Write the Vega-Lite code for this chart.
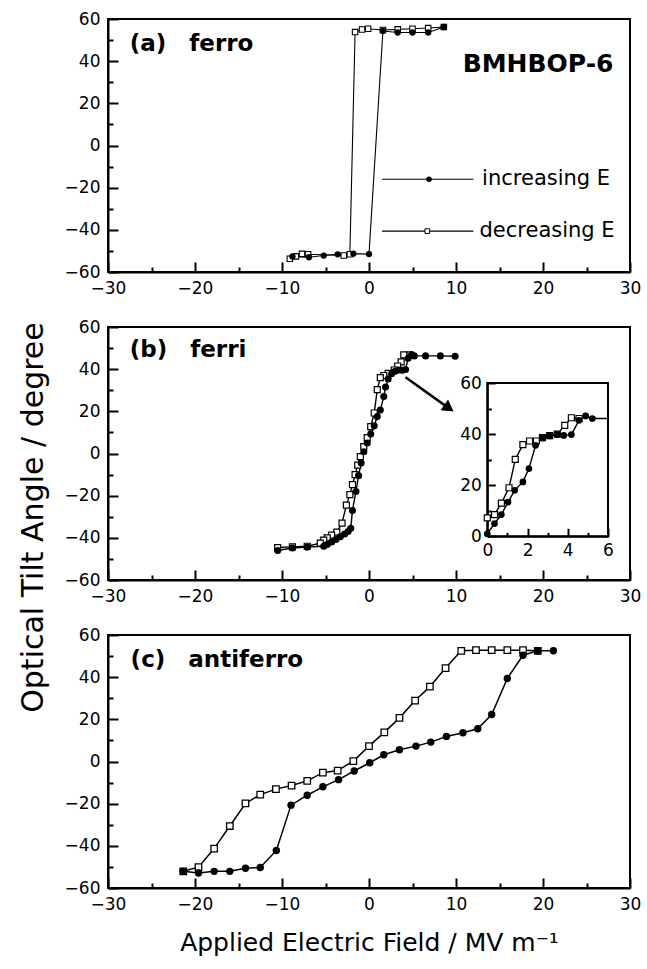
{
  "$schema": "https://vega.github.io/schema/vega-lite/v6.json",
  "background": "white",
  "padding": {"left": 17, "top": 9, "right": 0, "bottom": 5},
  "spacing": 55,
  "bounds": "flush",
  "config": {
    "view": {"stroke": "black", "strokeWidth": 2},
    "axis": {"domainColor": "black", "domainWidth": 2, "tickColor": "black", "tickWidth": 2, "tickSize": -10, "labelPadding": 18, "labelColor": "black", "labelFont": "DejaVu Sans", "labelFontSize": 17, "grid": false, "titleColor": "black", "titleFont": "DejaVu Sans", "titleFontWeight": "normal", "labelFlush": false, "labelOverlap": false}
  },
  "datasets": {
    "a": [
      {"E": -8.8, "T": -52.6, "dir": "inc"}, {"E": -6.9, "T": -53.0, "dir": "inc"}, {"E": -5.2, "T": -52.2, "dir": "inc"}, {"E": -3.6, "T": -51.6, "dir": "inc"}, {"E": -1.8, "T": -51.3, "dir": "inc"}, {"E": 0, "T": -51.5, "dir": "inc"}, {"E": 1.6, "T": 54.3, "dir": "inc"}, {"E": 3.3, "T": 53.6, "dir": "inc"}, {"E": 5.0, "T": 53.6, "dir": "inc"}, {"E": 6.8, "T": 53.6, "dir": "inc"}, {"E": 8.6, "T": 56.2, "dir": "inc"},
      {"E": 8.6, "T": 56.2, "dir": "dec"}, {"E": 6.8, "T": 55.7, "dir": "dec"}, {"E": 5.0, "T": 55.4, "dir": "dec"}, {"E": 3.3, "T": 55.1, "dir": "dec"}, {"E": 1.6, "T": 54.8, "dir": "dec"}, {"E": -0.1, "T": 55.4, "dir": "dec"}, {"E": -0.8, "T": 55.0, "dir": "dec"}, {"E": -1.6, "T": 53.8, "dir": "dec"}, {"E": -2.2, "T": -51.6, "dir": "dec"}, {"E": -2.9, "T": -52.2, "dir": "dec"}, {"E": -7.0, "T": -51.6, "dir": "dec"}, {"E": -7.7, "T": -51.4, "dir": "dec"}, {"E": -8.4, "T": -52.6, "dir": "dec"}, {"E": -9.1, "T": -53.7, "dir": "dec"}
    ],
    "b": [
      {"E": -10.5, "T": -46.0, "dir": "inc"}, {"E": -8.8, "T": -44.8, "dir": "inc"}, {"E": -7.1, "T": -44.4, "dir": "inc"}, {"E": -5.2, "T": -44.0, "dir": "inc"}, {"E": -4.8, "T": -43.2, "dir": "inc"}, {"E": -4.3, "T": -42.0, "dir": "inc"}, {"E": -3.8, "T": -40.8, "dir": "inc"}, {"E": -3.3, "T": -39.5, "dir": "inc"}, {"E": -2.8, "T": -38.2, "dir": "inc"}, {"E": -2.4, "T": -37.0, "dir": "inc"}, {"E": -2.1, "T": -35.5, "dir": "inc"}, {"E": -1.9, "T": -27.0, "dir": "inc"}, {"E": -1.5, "T": -18.0, "dir": "inc"}, {"E": -1.2, "T": -10.5, "dir": "inc"}, {"E": -0.9, "T": -4.5, "dir": "inc"}, {"E": -0.6, "T": 0.8, "dir": "inc"}, {"E": -0.2, "T": 5.0, "dir": "inc"}, {"E": 0.2, "T": 9.2, "dir": "inc"}, {"E": 0.6, "T": 13.2, "dir": "inc"}, {"E": 0.95, "T": 17.5, "dir": "inc"}, {"E": 1.3, "T": 20.6, "dir": "inc"}, {"E": 1.7, "T": 27.0, "dir": "inc"}, {"E": 1.9, "T": 31.5, "dir": "inc"}, {"E": 2.2, "T": 35.3, "dir": "inc"}, {"E": 2.6, "T": 37.8, "dir": "inc"}, {"E": 3.0, "T": 39.0, "dir": "inc"}, {"E": 3.4, "T": 39.6, "dir": "inc"}, {"E": 3.8, "T": 39.5, "dir": "inc"}, {"E": 4.2, "T": 39.8, "dir": "inc"}, {"E": 4.5, "T": 45.2, "dir": "inc"}, {"E": 4.9, "T": 46.8, "dir": "inc"}, {"E": 5.2, "T": 46.3, "dir": "inc"}, {"E": 6.5, "T": 46.3, "dir": "inc"}, {"E": 8.2, "T": 46.3, "dir": "inc"}, {"E": 9.9, "T": 46.1, "dir": "inc"},
      {"E": 4.7, "T": 46.8, "dir": "dec"}, {"E": 4.0, "T": 46.8, "dir": "dec"}, {"E": 3.7, "T": 43.5, "dir": "dec"}, {"E": 3.3, "T": 41.5, "dir": "dec"}, {"E": 2.9, "T": 39.6, "dir": "dec"}, {"E": 2.2, "T": 38.0, "dir": "dec"}, {"E": 1.7, "T": 37.0, "dir": "dec"}, {"E": 1.3, "T": 36.0, "dir": "dec"}, {"E": 0.95, "T": 30.3, "dir": "dec"}, {"E": 0.6, "T": 19.2, "dir": "dec"}, {"E": 0.2, "T": 12.7, "dir": "dec"}, {"E": -0.2, "T": 7.5, "dir": "dec"}, {"E": -0.6, "T": 3.3, "dir": "dec"}, {"E": -1.0, "T": -1.5, "dir": "dec"}, {"E": -1.3, "T": -5.5, "dir": "dec"}, {"E": -1.6, "T": -10.0, "dir": "dec"}, {"E": -1.9, "T": -14.8, "dir": "dec"}, {"E": -2.2, "T": -19.5, "dir": "dec"}, {"E": -2.6, "T": -24.5, "dir": "dec"}, {"E": -3.1, "T": -33.0, "dir": "dec"}, {"E": -3.7, "T": -37.3, "dir": "dec"}, {"E": -4.3, "T": -38.7, "dir": "dec"}, {"E": -4.8, "T": -40.0, "dir": "dec"}, {"E": -5.2, "T": -41.1, "dir": "dec"}, {"E": -5.6, "T": -42.5, "dir": "dec"}, {"E": -7.1, "T": -44.0, "dir": "dec"}, {"E": -8.8, "T": -44.3, "dir": "dec"}, {"E": -10.5, "T": -44.6, "dir": "dec"}
    ],
    "inset": [
      {"E": 0, "T": 1.0, "dir": "inc"}, {"E": 0.36, "T": 5.0, "dir": "inc"}, {"E": 0.7, "T": 8.5, "dir": "inc"}, {"E": 1.03, "T": 13.4, "dir": "inc"}, {"E": 1.36, "T": 18.0, "dir": "inc"}, {"E": 1.77, "T": 21.3, "dir": "inc"}, {"E": 2.07, "T": 26.5, "dir": "inc"}, {"E": 2.4, "T": 35.6, "dir": "inc"}, {"E": 2.74, "T": 38.5, "dir": "inc"}, {"E": 3.1, "T": 39.3, "dir": "inc"}, {"E": 3.48, "T": 39.8, "dir": "inc"}, {"E": 3.8, "T": 39.5, "dir": "inc"}, {"E": 4.18, "T": 39.8, "dir": "inc"}, {"E": 4.56, "T": 45.4, "dir": "inc"}, {"E": 4.89, "T": 47.1, "dir": "inc"}, {"E": 5.22, "T": 46.1, "dir": "inc"}, {"E": 6.0, "T": 46.1, "dir": "inc"},
      {"E": 4.56, "T": 46.1, "dir": "dec"}, {"E": 4.18, "T": 46.4, "dir": "dec"}, {"E": 3.85, "T": 43.4, "dir": "dec"}, {"E": 3.48, "T": 40.0, "dir": "dec"}, {"E": 3.1, "T": 39.4, "dir": "dec"}, {"E": 2.74, "T": 38.6, "dir": "dec"}, {"E": 2.44, "T": 37.3, "dir": "dec"}, {"E": 2.1, "T": 37.3, "dir": "dec"}, {"E": 1.77, "T": 35.9, "dir": "dec"}, {"E": 1.39, "T": 30.1, "dir": "dec"}, {"E": 1.08, "T": 19.0, "dir": "dec"}, {"E": 0.7, "T": 13.0, "dir": "dec"}, {"E": 0.36, "T": 8.5, "dir": "dec"}, {"E": 0, "T": 7.2, "dir": "dec"}
    ],
    "c": [
      {"E": -21.35, "T": -52.1, "dir": "inc"}, {"E": -19.6, "T": -52.9, "dir": "inc"}, {"E": -17.8, "T": -52.1, "dir": "inc"}, {"E": -16.0, "T": -52.1, "dir": "inc"}, {"E": -14.2, "T": -50.6, "dir": "inc"}, {"E": -12.5, "T": -50.3, "dir": "inc"}, {"E": -10.65, "T": -42.2, "dir": "inc"}, {"E": -8.96, "T": -20.7, "dir": "inc"}, {"E": -7.1, "T": -16.0, "dir": "inc"}, {"E": -5.3, "T": -12.0, "dir": "inc"}, {"E": -3.5, "T": -8.6, "dir": "inc"}, {"E": -1.7, "T": -4.5, "dir": "inc"}, {"E": 0.08, "T": -0.6, "dir": "inc"}, {"E": 1.7, "T": 3.2, "dir": "inc"}, {"E": 3.5, "T": 5.6, "dir": "inc"}, {"E": 5.4, "T": 7.3, "dir": "inc"}, {"E": 7.1, "T": 9.2, "dir": "inc"}, {"E": 8.9, "T": 11.9, "dir": "inc"}, {"E": 10.8, "T": 13.6, "dir": "inc"}, {"E": 12.5, "T": 15.5, "dir": "inc"}, {"E": 14.1, "T": 22.3, "dir": "inc"}, {"E": 15.9, "T": 39.4, "dir": "inc"}, {"E": 17.7, "T": 50.4, "dir": "inc"}, {"E": 19.4, "T": 52.5, "dir": "inc"}, {"E": 21.2, "T": 52.5, "dir": "inc"},
      {"E": 19.4, "T": 52.5, "dir": "dec"}, {"E": 17.7, "T": 52.8, "dir": "dec"}, {"E": 15.9, "T": 52.8, "dir": "dec"}, {"E": 14.1, "T": 52.8, "dir": "dec"}, {"E": 12.3, "T": 52.8, "dir": "dec"}, {"E": 10.6, "T": 52.5, "dir": "dec"}, {"E": 8.8, "T": 44.3, "dir": "dec"}, {"E": 7.0, "T": 35.5, "dir": "dec"}, {"E": 5.3, "T": 28.9, "dir": "dec"}, {"E": 3.5, "T": 20.7, "dir": "dec"}, {"E": 1.76, "T": 13.8, "dir": "dec"}, {"E": 0, "T": 7.3, "dir": "dec"}, {"E": -1.8, "T": 0.2, "dir": "dec"}, {"E": -3.6, "T": -4.3, "dir": "dec"}, {"E": -5.3, "T": -5.3, "dir": "dec"}, {"E": -7.1, "T": -9.2, "dir": "dec"}, {"E": -8.9, "T": -11.4, "dir": "dec"}, {"E": -10.7, "T": -13.1, "dir": "dec"}, {"E": -12.5, "T": -15.7, "dir": "dec"}, {"E": -14.2, "T": -19.9, "dir": "dec"}, {"E": -16.0, "T": -30.6, "dir": "dec"}, {"E": -17.8, "T": -41.3, "dir": "dec"}, {"E": -19.6, "T": -50.1, "dir": "dec"}, {"E": -21.35, "T": -52.1, "dir": "dec"}
    ],
    "legendLines": [
      {"E": 1.5, "T": -16.0, "dir": "inc"}, {"E": 12.0, "T": -16.0, "dir": "inc"},
      {"E": 1.5, "T": -40.6, "dir": "dec"}, {"E": 12.0, "T": -40.6, "dir": "dec"}
    ],
    "legendMarks": [
      {"E": 6.9, "T": -16.0, "dir": "inc"}, {"E": 6.7, "T": -40.6, "dir": "dec"}
    ],
    "legendText": [
      {"E": 13.0, "T": -16.0, "label": "increasing E"}, {"E": 12.7, "T": -40.6, "label": "decreasing E"}
    ],
    "arrow": [{"E": 4.2, "T": 36.2, "E2": 9.0, "T2": 22.0}],
    "arrowHead": [{"E": 9.19, "T": 21.5}],
    "insetFrame": [{"E": 0, "T": 0, "E2": 6, "T2": 60}],
    "anchor": [{"E": 0, "T": 0}],
    "insetAnchor": [{"E": 3, "T": 30}]
  },
  "vconcat": [
    {
      "width": 522, "height": 253,
      "layer": [
        {"layer": [
          {"data": {"name": "a"}, "mark": {"type": "line", "color": "black", "strokeWidth": 1.1},
           "encoding": {
             "x": {"field": "E", "type": "quantitative", "scale": {"domain": [-30, 30], "nice": false},
                   "axis": {"orient": "bottom", "values": [-30, -20, -10, 0, 10, 20, 30], "title": null}},
             "y": {"field": "T", "type": "quantitative", "scale": {"domain": [-60, 60], "nice": false},
                   "axis": {"orient": "left", "values": [-60, -40, -20, 0, 20, 40, 60], "title": null}},
             "detail": {"field": "dir"}}},
          {"data": {"name": "a"}, "transform": [{"filter": "datum.dir === 'dec'"}],
           "mark": {"type": "point", "shape": "square", "filled": true, "fill": "white", "stroke": "black", "strokeWidth": 1.1, "size": 30, "opacity": 1},
           "encoding": {"x": {"field": "E", "type": "quantitative"}, "y": {"field": "T", "type": "quantitative"}}},
          {"data": {"name": "a"}, "transform": [{"filter": "datum.dir === 'inc'"}],
           "mark": {"type": "point", "shape": "circle", "filled": true, "fill": "black", "size": 40, "opacity": 1},
           "encoding": {"x": {"field": "E", "type": "quantitative"}, "y": {"field": "T", "type": "quantitative"}}},
          {"data": {"name": "legendLines"}, "mark": {"type": "line", "color": "black", "strokeWidth": 1.1},
           "encoding": {"x": {"field": "E", "type": "quantitative"}, "y": {"field": "T", "type": "quantitative"}, "detail": {"field": "dir"}}},
          {"data": {"name": "legendMarks"}, "transform": [{"filter": "datum.dir === 'dec'"}],
           "mark": {"type": "point", "shape": "square", "filled": true, "fill": "white", "stroke": "black", "strokeWidth": 1, "size": 22, "opacity": 1},
           "encoding": {"x": {"field": "E", "type": "quantitative"}, "y": {"field": "T", "type": "quantitative"}}},
          {"data": {"name": "legendMarks"}, "transform": [{"filter": "datum.dir === 'inc'"}],
           "mark": {"type": "point", "shape": "circle", "filled": true, "fill": "black", "size": 30, "opacity": 1},
           "encoding": {"x": {"field": "E", "type": "quantitative"}, "y": {"field": "T", "type": "quantitative"}}},
          {"data": {"name": "legendText"}, "mark": {"type": "text", "align": "left", "baseline": "middle", "font": "DejaVu Sans", "fontSize": 21, "color": "black"},
           "encoding": {"x": {"field": "E", "type": "quantitative"}, "y": {"field": "T", "type": "quantitative"}, "text": {"field": "label"}}},
          {"data": {"values": [{"E": -27.5, "T": 48.1, "label": "(a)\u2003ferro"}]}, "mark": {"type": "text", "align": "left", "baseline": "middle", "font": "DejaVu Sans", "fontWeight": "bold", "fontSize": 23, "color": "black"},
           "encoding": {"x": {"field": "E", "type": "quantitative"}, "y": {"field": "T", "type": "quantitative"}, "text": {"field": "label"}}},
          {"data": {"values": [{"E": 28.1, "T": 38.6, "label": "BMHBOP-6"}]}, "mark": {"type": "text", "align": "right", "baseline": "middle", "font": "DejaVu Sans", "fontWeight": "bold", "fontSize": 25, "color": "black"},
           "encoding": {"x": {"field": "E", "type": "quantitative"}, "y": {"field": "T", "type": "quantitative"}, "text": {"field": "label"}}}
        ]},
        {"data": {"name": "anchor"}, "mark": {"type": "point", "opacity": 0},
         "encoding": {
           "x": {"field": "E", "type": "quantitative", "scale": {"domain": [-30, 30], "nice": false},
                 "axis": {"orient": "bottom", "values": [-25, -15, -5, 5, 15, 25], "tickSize": -5, "labels": false, "domain": false, "title": null}},
           "y": {"field": "T", "type": "quantitative", "scale": {"domain": [-60, 60], "nice": false},
                 "axis": {"orient": "left", "values": [-50, -30, -10, 10, 30, 50], "tickSize": -5, "labels": false, "domain": false, "title": null}}}}
      ],
      "resolve": {"scale": {"x": "independent", "y": "independent"}, "axis": {"x": "independent", "y": "independent"}}
    },
    {
      "width": 522, "height": 253,
      "layer": [
        {"layer": [
          {"data": {"name": "b"}, "mark": {"type": "line", "color": "black", "strokeWidth": 1.4},
           "encoding": {
             "x": {"field": "E", "type": "quantitative", "scale": {"domain": [-30, 30], "nice": false},
                   "axis": {"orient": "bottom", "values": [-30, -20, -10, 0, 10, 20, 30], "title": null}},
             "y": {"field": "T", "type": "quantitative", "scale": {"domain": [-60, 60], "nice": false},
                   "axis": {"orient": "left", "values": [-60, -40, -20, 0, 20, 40, 60], "title": "Optical Tilt Angle / degree", "titleFontSize": 30, "titlePadding": 16, "titleY": 190}},
             "detail": {"field": "dir"}}},
          {"data": {"name": "b"}, "transform": [{"filter": "datum.dir === 'dec'"}],
           "mark": {"type": "point", "shape": "square", "filled": true, "fill": "white", "stroke": "black", "strokeWidth": 1.2, "size": 36, "opacity": 1},
           "encoding": {"x": {"field": "E", "type": "quantitative"}, "y": {"field": "T", "type": "quantitative"}}},
          {"data": {"name": "b"}, "transform": [{"filter": "datum.dir === 'inc'"}],
           "mark": {"type": "point", "shape": "circle", "filled": true, "fill": "black", "size": 50, "opacity": 1},
           "encoding": {"x": {"field": "E", "type": "quantitative"}, "y": {"field": "T", "type": "quantitative"}}},
          {"data": {"name": "arrow"}, "mark": {"type": "rule", "color": "black", "strokeWidth": 2.5},
           "encoding": {"x": {"field": "E", "type": "quantitative"}, "y": {"field": "T", "type": "quantitative"}, "x2": {"field": "E2"}, "y2": {"field": "T2"}}},
          {"data": {"name": "arrowHead"}, "mark": {"type": "point", "shape": "triangle-right", "angle": 35, "filled": true, "fill": "black", "size": 170, "opacity": 1},
           "encoding": {"x": {"field": "E", "type": "quantitative"}, "y": {"field": "T", "type": "quantitative"}}},
          {"data": {"values": [{"E": -27.5, "T": 49.0, "label": "(b)\u2003ferri"}]}, "mark": {"type": "text", "align": "left", "baseline": "middle", "font": "DejaVu Sans", "fontWeight": "bold", "fontSize": 23, "color": "black"},
           "encoding": {"x": {"field": "E", "type": "quantitative"}, "y": {"field": "T", "type": "quantitative"}, "text": {"field": "label"}}}
        ]},
        {"data": {"name": "anchor"}, "mark": {"type": "point", "opacity": 0},
         "encoding": {
           "x": {"field": "E", "type": "quantitative", "scale": {"domain": [-30, 30], "nice": false},
                 "axis": {"orient": "bottom", "values": [-25, -15, -5, 5, 15, 25], "tickSize": -5, "labels": false, "domain": false, "title": null}},
           "y": {"field": "T", "type": "quantitative", "scale": {"domain": [-60, 60], "nice": false},
                 "axis": {"orient": "left", "values": [-50, -30, -10, 10, 30, 50], "tickSize": -5, "labels": false, "domain": false, "title": null}}}},
        {"layer": [
          {"data": {"name": "insetFrame"}, "mark": {"type": "rect", "fillOpacity": 0, "stroke": "black", "strokeWidth": 2},
           "encoding": {
             "x": {"field": "E", "type": "quantitative", "scale": {"domain": [0, 6], "nice": false, "range": [379.3, 500]},
                   "axis": {"orient": "bottom", "offset": -43.7, "values": [0, 2, 4, 6], "format": "d", "tickSize": -8, "labelPadding": 14, "title": null}},
             "y": {"field": "T", "type": "quantitative", "scale": {"domain": [0, 60], "nice": false, "range": [209.3, 56]},
                   "axis": {"orient": "left", "offset": -379.3, "values": [0, 20, 40, 60], "format": "d", "tickSize": -8, "labelPadding": 14, "title": null}},
             "x2": {"field": "E2"}, "y2": {"field": "T2"}}},
          {"data": {"name": "inset"}, "mark": {"type": "line", "color": "black", "strokeWidth": 1.4},
           "encoding": {"x": {"field": "E", "type": "quantitative"}, "y": {"field": "T", "type": "quantitative"}, "detail": {"field": "dir"}}},
          {"data": {"name": "inset"}, "transform": [{"filter": "datum.dir === 'dec'"}],
           "mark": {"type": "point", "shape": "square", "filled": true, "fill": "white", "stroke": "black", "strokeWidth": 1.2, "size": 36, "opacity": 1},
           "encoding": {"x": {"field": "E", "type": "quantitative"}, "y": {"field": "T", "type": "quantitative"}}},
          {"data": {"name": "inset"}, "transform": [{"filter": "datum.dir === 'inc' && datum.E < 6"}],
           "mark": {"type": "point", "shape": "circle", "filled": true, "fill": "black", "size": 45, "opacity": 1},
           "encoding": {"x": {"field": "E", "type": "quantitative"}, "y": {"field": "T", "type": "quantitative"}}}
        ]},
        {"data": {"name": "insetAnchor"}, "mark": {"type": "point", "opacity": 0},
         "encoding": {
           "x": {"field": "E", "type": "quantitative", "scale": {"domain": [0, 6], "nice": false, "range": [379.3, 500]},
                 "axis": {"orient": "bottom", "offset": -43.7, "values": [1, 3, 5], "tickSize": -4, "labels": false, "domain": false, "title": null}},
           "y": {"field": "T", "type": "quantitative", "scale": {"domain": [0, 60], "nice": false, "range": [209.3, 56]},
                 "axis": {"orient": "left", "offset": -379.3, "values": [10, 30, 50], "tickSize": -4, "labels": false, "domain": false, "title": null}}}}
      ],
      "resolve": {"scale": {"x": "independent", "y": "independent"}, "axis": {"x": "independent", "y": "independent"}}
    },
    {
      "width": 522, "height": 253,
      "layer": [
        {"layer": [
          {"data": {"name": "c"}, "mark": {"type": "line", "color": "black", "strokeWidth": 1.5},
           "encoding": {
             "x": {"field": "E", "type": "quantitative", "scale": {"domain": [-30, 30], "nice": false},
                   "axis": {"orient": "bottom", "values": [-30, -20, -10, 0, 10, 20, 30], "title": "Applied Electric Field / MV m\u207b\u00b9", "titleFontSize": 25, "titlePadding": 18}},
             "y": {"field": "T", "type": "quantitative", "scale": {"domain": [-60, 60], "nice": false},
                   "axis": {"orient": "left", "values": [-60, -40, -20, 0, 20, 40, 60], "title": null}},
             "detail": {"field": "dir"}}},
          {"data": {"name": "c"}, "transform": [{"filter": "datum.dir === 'dec'"}],
           "mark": {"type": "point", "shape": "square", "filled": true, "fill": "white", "stroke": "black", "strokeWidth": 1.3, "size": 42, "opacity": 1},
           "encoding": {"x": {"field": "E", "type": "quantitative"}, "y": {"field": "T", "type": "quantitative"}}},
          {"data": {"name": "c"}, "transform": [{"filter": "datum.dir === 'inc'"}],
           "mark": {"type": "point", "shape": "circle", "filled": true, "fill": "black", "size": 55, "opacity": 1},
           "encoding": {"x": {"field": "E", "type": "quantitative"}, "y": {"field": "T", "type": "quantitative"}}},
          {"data": {"values": [{"E": -27.4, "T": 48.2, "label": "(c)\u2003antiferro"}]}, "mark": {"type": "text", "align": "left", "baseline": "middle", "font": "DejaVu Sans", "fontWeight": "bold", "fontSize": 23, "color": "black"},
           "encoding": {"x": {"field": "E", "type": "quantitative"}, "y": {"field": "T", "type": "quantitative"}, "text": {"field": "label"}}}
        ]},
        {"data": {"name": "anchor"}, "mark": {"type": "point", "opacity": 0},
         "encoding": {
           "x": {"field": "E", "type": "quantitative", "scale": {"domain": [-30, 30], "nice": false},
                 "axis": {"orient": "bottom", "values": [-25, -15, -5, 5, 15, 25], "tickSize": -5, "labels": false, "domain": false, "title": null}},
           "y": {"field": "T", "type": "quantitative", "scale": {"domain": [-60, 60], "nice": false},
                 "axis": {"orient": "left", "values": [-50, -30, -10, 10, 30, 50], "tickSize": -5, "labels": false, "domain": false, "title": null}}}}
      ],
      "resolve": {"scale": {"x": "independent", "y": "independent"}, "axis": {"x": "independent", "y": "independent"}}
    }
  ]
}
